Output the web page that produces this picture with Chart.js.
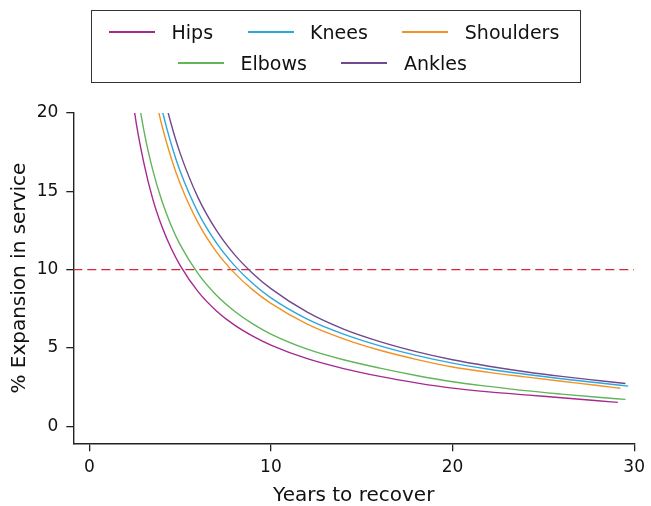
<!DOCTYPE html>
<html>
<head>
<meta charset="utf-8">
<script src="https://cdn.jsdelivr.net/npm/chart.js@4"></script>
<style>
  body { margin: 0; background: #fff; }
  #wrap { position: relative; width: 651px; height: 506px; }
  #chart { position: absolute; left: 0; top: 0; }
  .legend-box { position: absolute; left: 91px; top: 10px; width: 490px; height: 73px; box-sizing: border-box; border: 1.3px solid #333; }
  .legend-row { position: absolute; display: flex; align-items: center; gap: 34.5px; height: 20px; font: 19px/20px 'DejaVu Sans', sans-serif; color: #111; white-space: nowrap; }
  .legend-item { display: flex; align-items: center; }
  .legend-line { display: inline-block; width: 46px; height: 2px; margin-right: 16.5px; }
</style>
</head>
<body>
<div id="wrap">
  <canvas id="chart" width="651" height="506"></canvas>
  <div class="legend-box" id="legend"></div>
</div>
<script>
// years to recover (shared sample points) and % expansion
const years = [2, 2.5, 3, 3.5, 4, 4.5, 5, 6, 7, 8, 9, 10, 12, 14, 16, 18, 20, 22, 24, 26, 28];
const hips      = [25.0, 20.0, 16.83, 14.49, 12.75, 11.38, 10.28, 8.58, 7.37, 6.46, 5.76, 5.19, 4.32, 3.69, 3.19, 2.78, 2.44, 2.20, 2.01, 1.83, 1.64];
const knees     = [40.5, 32.4, 27.0, 23.14, 20.25, 18.07, 16.3, 13.63, 11.71, 10.26, 9.12, 8.2, 6.85, 5.89, 5.14, 4.53, 4.04, 3.65, 3.33, 3.04, 2.78];
const shoulders = [38.0, 30.4, 25.3, 21.8, 19.2, 17.16, 15.5, 12.97, 11.14, 9.78, 8.71, 7.85, 6.53, 5.59, 4.86, 4.28, 3.79, 3.45, 3.16, 2.88, 2.61];
const elbows    = [28.0, 22.5, 18.93, 16.34, 14.38, 12.84, 11.6, 9.73, 8.37, 7.35, 6.54, 5.89, 4.93, 4.25, 3.72, 3.25, 2.85, 2.55, 2.28, 2.06, 1.86];
const ankles    = [43.0, 34.5, 28.8, 24.7, 21.65, 19.33, 17.44, 14.57, 12.51, 10.96, 9.76, 8.79, 7.29, 6.21, 5.41, 4.77, 4.25, 3.84, 3.49, 3.19, 2.93];

const seriesNames = ['Hips', 'Knees', 'Shoulders', 'Elbows', 'Ankles'];
const seriesValues = [hips, knees, shoulders, elbows, ankles];
const endYears = [29.1, 29.67, 29.24, 29.52, 29.52];
const endValues = [1.53, 2.57, 2.43, 1.72, 2.74];
const seriesColors = ['#a52a8f', '#2ba8e0', '#f39224', '#62b55a', '#70498f'];

const threshold = 10;
const xTicks = [0, 10, 20, 30];
const yTicks = [0, 5, 10, 15, 20];
const xMin = -0.88, xMax = 30, yMin = -1.08, yMax = 20;

const font = "'DejaVu Sans', sans-serif";
const axisClr = '#222';

const datasets = seriesNames.map((name, i) => ({
    label: name,
    data: years.map((x, j) => ({ x, y: seriesValues[i][j] })).concat({ x: endYears[i], y: endValues[i] }),
    borderColor: seriesColors[i],
    borderWidth: 1.4,
    cubicInterpolationMode: 'monotone',
    pointRadius: 0
}));

datasets.push({
    label: 'threshold',
    data: [{ x: xMin, y: threshold }, { x: xMax, y: threshold }],
    borderColor: '#d7263d',
    borderWidth: 1.3,
    borderDash: [9, 5],
    pointRadius: 0
});

// legend (two rows like the figure)
const legendItem = i => `<div class="legend-item"><span class="legend-line" style="background:${seriesColors[i]}"></span>${seriesNames[i]}</div>`;
document.getElementById('legend').innerHTML = `
  <div class="legend-row" style="left:17px; top:11px">${[0, 1, 2].map(legendItem).join('')}</div>
  <div class="legend-row" style="left:86px; top:42px">${[3, 4].map(legendItem).join('')}</div>`;

const tickGrid = { drawOnChartArea: false, drawTicks: true, color: axisClr, lineWidth: 1.3 };

new Chart(document.getElementById('chart'), {
    type: 'line',
    data: { datasets },
    options: {
        responsive: false,
        animation: false,
        devicePixelRatio: 1,
        layout: { padding: { top: 113, right: 14, left: 0, bottom: 0 } },
        plugins: { legend: { display: false }, tooltip: { enabled: false } },
        scales: {
            x: {
                type: 'linear', min: xMin, max: xMax,
                afterBuildTicks: s => { s.ticks = xTicks.map(v => ({ value: v })); },
                afterFit: s => { s.height = 62.7; },
                grid: { ...tickGrid, tickLength: 8 },
                border: { display: true, color: axisClr, width: 1.4 },
                ticks: { autoSkip: false, maxRotation: 0, padding: 6, color: '#111', font: { family: font, size: 17 } },
                title: { display: true, text: 'Years to recover', color: '#111', padding: { top: 0, bottom: 0 }, font: { family: font, size: 20, lineHeight: 1 } }
            },
            y: {
                type: 'linear', min: yMin, max: yMax,
                afterBuildTicks: s => { s.ticks = yTicks.map(v => ({ value: v })); },
                afterFit: s => { s.width = 73.3; },
                grid: { ...tickGrid, tickLength: 7 },
                border: { display: true, color: axisClr, width: 1.4 },
                ticks: { autoSkip: false, padding: 8, color: '#111', font: { family: font, size: 17 } },
                title: { display: true, text: '% Expansion in service', color: '#111', padding: { top: 7.5, bottom: 0 }, font: { family: font, size: 20, lineHeight: 1.2 } }
            }
        }
    }
});
</script>
</body>
</html>
